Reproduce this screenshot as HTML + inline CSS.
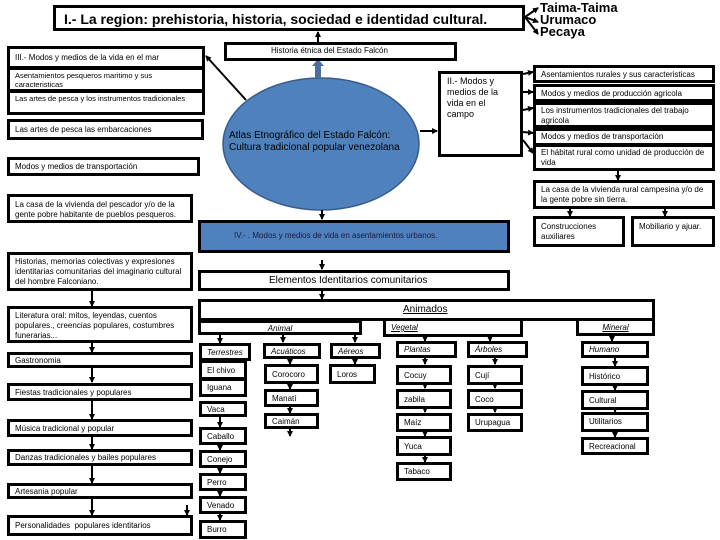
<!DOCTYPE html>
<html><head><meta charset="utf-8"><style>
body{margin:0;width:720px;height:540px;background:#fff;position:relative;overflow:hidden;font-family:"Liberation Sans",sans-serif}
.b{position:absolute;border:3px solid #000;background:#fff;box-sizing:border-box;font-size:8px;line-height:10px;padding:1px 5px;color:#000;white-space:nowrap;overflow:hidden}
.w{white-space:normal}
.i{font-style:italic}
.u{text-decoration:underline}
svg{position:absolute;left:0;top:0}
</style></head><body>
<svg width="720" height="540">
<defs><marker id="a" markerUnits="userSpaceOnUse" markerWidth="6" markerHeight="6" refX="5" refY="3" orient="auto"><path d="M0,0L6,3L0,6z" fill="#000"/></marker></defs>
<ellipse cx="321" cy="144" rx="98" ry="66" fill="#4f81bd" stroke="#385d8a" stroke-width="1.5"/>
<line x1="318" y1="78" x2="318" y2="64" stroke="#4a6fa0" stroke-width="6"/>
<path d="M312,66L318,59L324,66z" fill="#4a6fa0"/>
<g stroke="#000" stroke-width="2" fill="none" marker-end="url(#a)">
<line x1="318" y1="42" x2="318" y2="32"/>
<line x1="525" y1="17" x2="538" y2="8"/>
<line x1="525" y1="17" x2="538" y2="22"/>
<line x1="525" y1="17" x2="538" y2="34"/>
<line x1="246" y1="100" x2="206" y2="56"/>
<line x1="420" y1="131" x2="437" y2="131"/>
<line x1="523" y1="74" x2="533" y2="72"/>
<line x1="523" y1="92" x2="533" y2="92"/>
<line x1="523" y1="110" x2="533" y2="108"/>
<line x1="523" y1="132" x2="533" y2="133"/>
<line x1="523" y1="140" x2="533" y2="153"/>
<line x1="618" y1="171" x2="618" y2="180"/>
<line x1="570" y1="208" x2="570" y2="216"/>
<line x1="665" y1="208" x2="665" y2="216"/>
<line x1="322" y1="210" x2="322" y2="219"/>
<line x1="322" y1="260" x2="322" y2="269"/>
<line x1="322" y1="291" x2="322" y2="299"/>
<line x1="92" y1="291" x2="92" y2="306"/>
<line x1="92" y1="342" x2="92" y2="352"/>
<line x1="92" y1="368" x2="92" y2="382"/>
<line x1="92" y1="401" x2="92" y2="419"/>
<line x1="92" y1="437" x2="92" y2="449"/>
<line x1="92" y1="466" x2="92" y2="483"/>
<line x1="92" y1="499" x2="92" y2="515"/>
<line x1="187" y1="505" x2="187" y2="515"/>
<line x1="220" y1="335" x2="220" y2="343"/>
<line x1="283" y1="335" x2="283" y2="342"/>
<line x1="355" y1="335" x2="355" y2="342"/>
<line x1="425" y1="337" x2="425" y2="341"/>
<line x1="490" y1="337" x2="490" y2="341"/>
<line x1="612" y1="335" x2="612" y2="341"/>
<line x1="290" y1="358" x2="290" y2="364"/>
<line x1="290" y1="383" x2="290" y2="389"/>
<line x1="290" y1="406" x2="290" y2="413"/>
<line x1="290" y1="428" x2="290" y2="436"/>
<line x1="355" y1="358" x2="355" y2="364"/>
<line x1="425" y1="357" x2="425" y2="364"/>
<line x1="425" y1="384" x2="425" y2="388"/>
<line x1="425" y1="408" x2="425" y2="412"/>
<line x1="425" y1="431" x2="425" y2="436"/>
<line x1="425" y1="455" x2="425" y2="462"/>
<line x1="495" y1="357" x2="495" y2="364"/>
<line x1="495" y1="384" x2="495" y2="388"/>
<line x1="495" y1="408" x2="495" y2="412"/>
<line x1="615" y1="357" x2="615" y2="366"/>
<line x1="615" y1="385" x2="615" y2="390"/>
<line x1="615" y1="409" x2="615" y2="412"/>
<line x1="615" y1="431" x2="615" y2="437"/>
<line x1="220" y1="415" x2="220" y2="427"/>
<line x1="220" y1="444" x2="220" y2="450"/>
<line x1="220" y1="467" x2="220" y2="473"/>
<line x1="220" y1="490" x2="220" y2="496"/>
<line x1="220" y1="513" x2="220" y2="520"/>
</g>
</svg>
<div class="b" style="left:53px;top:5px;width:472px;height:26px;font-size:14px;font-weight:bold;line-height:20px;padding-left:8px">I.- La region: prehistoria, historia, sociedad e identidad cultural.</div>
<div style="position:absolute;left:540px;top:2px;font-size:13px;font-weight:bold;line-height:12px">Taima-Taima<br>Urumaco<br>Pecaya</div>
<div class="b" style="left:224px;top:42px;width:233px;height:19px;padding-left:44px">Historia étnica del Estado Falcón</div>
<div class="b" style="left:7px;top:46px;width:198px;height:69px;padding:0"></div>
<div class="b" style="left:7px;top:46px;width:198px;height:23px;line-height:16px">III.- Modos y medios de la vida en el mar</div>
<div class="b w" style="left:7px;top:67px;width:198px;height:25px;font-size:7.5px;line-height:9px">Asentamientos pesqueros maritimo y sus caracteristicas</div>
<div class="b" style="left:7px;top:90px;width:198px;height:25px;font-size:7.5px">Las artes de pesca y los instrumentos tradicionales</div>
<div class="b" style="left:7px;top:119px;width:197px;height:21px;line-height:14px">Las artes de pesca las embarcaciones</div>
<div class="b" style="left:7px;top:157px;width:193px;height:19px;line-height:12px">Modos y medios de transportación</div>
<div class="b w" style="left:7px;top:194px;width:186px;height:29px;padding-top:3px">La casa de la vivienda del pescador y/o de la gente pobre habitante de pueblos pesqueros.</div>
<div style="position:absolute;left:229px;top:130px;font-size:10px;line-height:12px;color:#000">Atlas Etnográfico del Estado Falcón:<br>Cultura tradicional popular venezolana</div>
<div class="b w" style="left:438px;top:71px;width:85px;height:86px;font-size:9px;line-height:11px;padding:2px 6px">II.- Modos y medios de la vida en el campo</div>
<div class="b" style="left:533px;top:65px;width:182px;height:18px;line-height:11px">Asentamientos rurales y sus caracteristicas</div>
<div class="b" style="left:533px;top:84px;width:182px;height:18px;line-height:11px">Modos y medios de producción agricola</div>
<div class="b w" style="left:533px;top:102px;width:182px;height:26px">Los instrumentos tradicionales del trabajo agricola</div>
<div class="b" style="left:533px;top:128px;width:182px;height:18px;line-height:9px">Modos y medios de transportación</div>
<div class="b w" style="left:533px;top:144px;width:182px;height:27px">El hábitat rural como unidad de producción de vida</div>
<div class="b w" style="left:533px;top:180px;width:182px;height:29px;padding-top:2px">La casa de la vivienda rural campesina y/o de la gente pobre sin tierra.</div>
<div class="b w" style="left:533px;top:216px;width:92px;height:31px;padding-top:3px">Construcciones auxiliares</div>
<div class="b w" style="left:631px;top:216px;width:84px;height:31px;padding-top:3px">Mobiliario y ajuar.</div>
<div class="b" style="left:198px;top:220px;width:312px;height:33px;background:#4f81bd;line-height:24px;padding-left:33px;color:#1a1a40">IV.- . Modos y medios de vida en asentamientos urbanos.</div>
<div class="b" style="left:198px;top:270px;width:312px;height:21px;font-size:10px;line-height:14px;padding-left:68px">Elementos Identitarios comunitarios</div>
<div class="b" style="left:198px;top:299px;width:457px;height:22px;font-size:10px;line-height:14px;padding-left:202px"><span class="u">Animados</span></div>
<div class="b" style="left:198px;top:320px;width:164px;height:15px;text-align:center;line-height:9px"><span class="u i">Animal</span></div>
<div class="b" style="left:383px;top:318px;width:140px;height:19px;line-height:11px"><span class="u i">Vegetal</span></div>
<div class="b" style="left:576px;top:318px;width:79px;height:18px;text-align:center;line-height:11px"><span class="u i">Mineral</span></div>
<div class="b i" style="left:199px;top:343px;width:52px;height:18px;line-height:11px">Terrestres</div>
<div class="b i" style="left:263px;top:343px;width:58px;height:16px;line-height:9px">Acuáticos</div>
<div class="b i" style="left:330px;top:343px;width:51px;height:16px;line-height:9px">Aéreos</div>
<div class="b" style="left:199px;top:360px;width:48px;height:20px;line-height:13px">El chivo</div>
<div class="b" style="left:199px;top:378px;width:48px;height:19px;line-height:12px">Iguana</div>
<div class="b" style="left:199px;top:401px;width:48px;height:16px;line-height:9px">Vaca</div>
<div class="b" style="left:199px;top:427px;width:48px;height:18px;line-height:11px">Caballo</div>
<div class="b" style="left:199px;top:450px;width:48px;height:18px;line-height:11px">Conejo</div>
<div class="b" style="left:199px;top:473px;width:48px;height:18px;line-height:11px">Perro</div>
<div class="b" style="left:199px;top:496px;width:48px;height:18px;line-height:11px">Venado</div>
<div class="b" style="left:199px;top:520px;width:48px;height:19px;line-height:12px">Burro</div>
<div class="b" style="left:264px;top:364px;width:55px;height:20px;line-height:13px">Corocoro</div>
<div class="b" style="left:264px;top:389px;width:55px;height:18px;line-height:11px">Manatí</div>
<div class="b" style="left:264px;top:413px;width:55px;height:16px;line-height:9px">Caimán</div>
<div class="b" style="left:329px;top:364px;width:47px;height:20px;line-height:13px">Loros</div>
<div class="b i" style="left:396px;top:341px;width:61px;height:17px;line-height:10px">Plantas</div>
<div class="b i" style="left:467px;top:341px;width:61px;height:17px;line-height:10px">Árboles</div>
<div class="b" style="left:396px;top:365px;width:56px;height:20px;line-height:13px">Cocuy</div>
<div class="b" style="left:396px;top:389px;width:56px;height:20px;line-height:13px">zabila</div>
<div class="b" style="left:396px;top:413px;width:56px;height:19px;line-height:12px">Maíz</div>
<div class="b" style="left:396px;top:436px;width:56px;height:20px;line-height:13px">Yuca</div>
<div class="b" style="left:396px;top:462px;width:56px;height:19px;line-height:12px">Tabaco</div>
<div class="b" style="left:467px;top:365px;width:56px;height:20px;line-height:13px">Cují</div>
<div class="b" style="left:467px;top:389px;width:56px;height:20px;line-height:13px">Coco</div>
<div class="b" style="left:467px;top:413px;width:56px;height:19px;line-height:12px">Urupagua</div>
<div class="b i" style="left:581px;top:341px;width:68px;height:17px;line-height:10px">Humano</div>
<div class="b" style="left:581px;top:366px;width:68px;height:20px;line-height:13px">Histórico</div>
<div class="b" style="left:581px;top:390px;width:68px;height:20px;line-height:13px">Cultural</div>
<div class="b" style="left:581px;top:412px;width:68px;height:20px;line-height:12px">Utilitarios</div>
<div class="b" style="left:581px;top:437px;width:68px;height:18px;line-height:11px">Recreacional</div>
<div class="b w" style="left:7px;top:252px;width:186px;height:39px;padding-top:2px">Historias, memorias colectivas y expresiones identitarias comunitarias del imaginario cultural del hombre Falconiano.</div>
<div class="b w" style="left:7px;top:306px;width:186px;height:37px;padding-top:2px">Literatura oral: mitos, leyendas, cuentos populares., creencias populares, costumbres funerarias...</div>
<div class="b" style="left:7px;top:352px;width:186px;height:16px;line-height:9px">Gastronomia</div>
<div class="b" style="left:7px;top:383px;width:186px;height:18px;line-height:11px">Fiestas tradicionales y populares</div>
<div class="b" style="left:7px;top:419px;width:186px;height:18px;line-height:11px">Música tradicional y popular</div>
<div class="b" style="left:7px;top:449px;width:186px;height:17px;line-height:10px">Danzas tradicionales y bailes populares</div>
<div class="b" style="left:7px;top:483px;width:186px;height:16px;line-height:9px">Artesania popular</div>
<div class="b" style="left:7px;top:515px;width:186px;height:21px;line-height:14px">Personalidades&nbsp; populares identitarios</div>
</body></html>
